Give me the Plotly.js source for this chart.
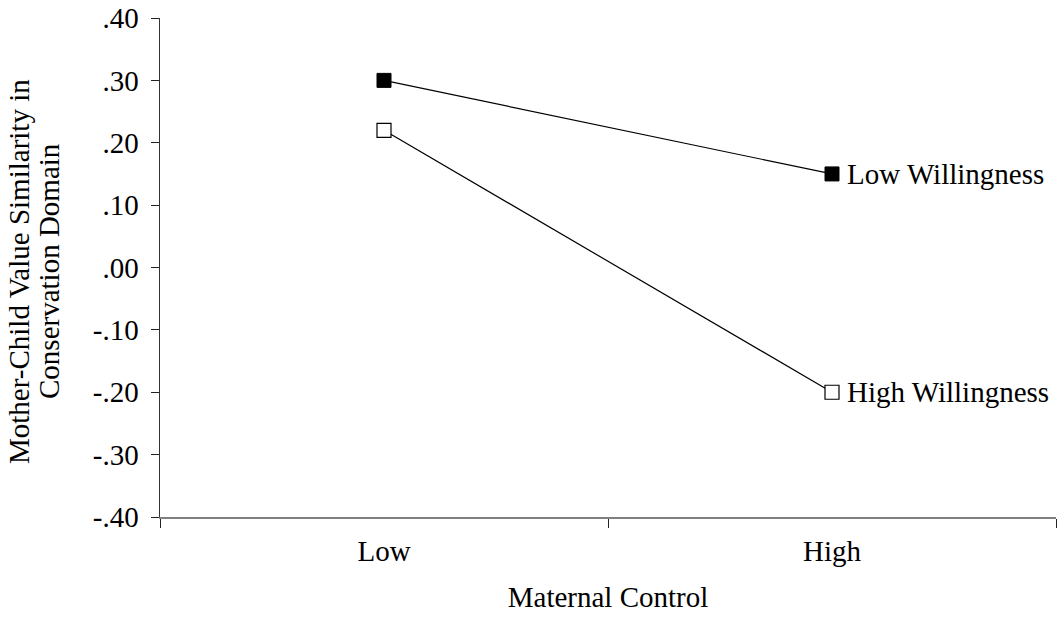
<!DOCTYPE html>
<html>
<head>
<meta charset="utf-8">
<script src="https://cdn.plot.ly/plotly-3.0.1.min.js"></script>
<style>html,body{margin:0;padding:0;background:#fff;}#chart{width:1063px;height:619px;}</style>
</head>
<body>
<div id="chart"></div>
<script>
const categories = ["Low", "High"];
const lowWillingness = [0.30, 0.15];
const highWillingness = [0.22, -0.20];
const seriesNames = ["Low Willingness", "High Willingness"];
const yTickVals = [0.40, 0.30, 0.20, 0.10, 0.00, -0.10, -0.20, -0.30, -0.40];
const yTickText = [".40", ".30", ".20", ".10", ".00", "-.10", "-.20", "-.30", "-.40"];
const xTitle = "Maternal Control";
const yTitleLines = ["Mother-Child Value Similarity in", "Conservation Domain"];

const FONT = "Liberation Serif, Times New Roman, serif";
const FS = 29;

const traces = [
  {x: categories, y: lowWillingness, name: seriesNames[0], type: "scatter", mode: "lines+markers",
   line: {color: "#000", width: 1.2},
   marker: {symbol: "square", size: 14, color: "#000", line: {color: "#000", width: 1}}},
  {x: categories, y: highWillingness, name: seriesNames[1], type: "scatter", mode: "lines+markers",
   line: {color: "#000", width: 1.2},
   marker: {symbol: "square", size: 14, color: "#fff", line: {color: "#000", width: 1.2}}}
];

const layout = {
  width: 1063, height: 619,
  margin: {l: 160, r: 7, t: 18, b: 102},
  paper_bgcolor: "#fff", plot_bgcolor: "#fff",
  showlegend: false,
  font: {family: FONT, color: "#000", size: FS},
  xaxis: {
    type: "category", categoryarray: categories, tickson: "boundaries",
    range: [-0.5, 1.5],
    showgrid: false, zeroline: false,
    showline: true, linecolor: "#808080", linewidth: 1.5,
    ticks: "outside", ticklen: 9, tickcolor: "#222", tickwidth: 1,
    tickfont: {family: FONT, size: FS, color: "#000"},
    ticklabelstandoff: 8,
    title: {text: xTitle, font: {family: FONT, size: FS, color: "#000"}, standoff: 20},
    fixedrange: true
  },
  xaxis2: {
    overlaying: "x", type: "linear", range: [-0.5, 1.5],
    tickvals: [-0.5, 0.5, 1.5], showticklabels: false,
    showgrid: false, zeroline: false, showline: false,
    ticks: "inside", ticklen: 9, tickcolor: "#222", tickwidth: 1, side: "bottom"
  },
  yaxis: {
    range: [-0.4, 0.4], tickvals: yTickVals, ticktext: yTickText,
    showgrid: false, zeroline: false,
    showline: true, linecolor: "#333", linewidth: 1.5,
    ticks: "outside", ticklen: 8, tickcolor: "#222", tickwidth: 1,
    tickfont: {family: FONT, size: FS, color: "#000"},
    ticklabelstandoff: 6,
    fixedrange: true
  },
  yaxis2: {
    overlaying: "y", range: [-0.4, 0.4], tickvals: yTickVals, showticklabels: false,
    showgrid: false, zeroline: false, showline: false,
    ticks: "inside", ticklen: 10, tickcolor: "#222", tickwidth: 1, side: "left"
  },
  annotations: [
    {x: categories[1], y: lowWillingness[1], xref: "x", yref: "y", text: seriesNames[0],
     showarrow: false, xanchor: "left", yanchor: "middle", xshift: 13,
     font: {family: FONT, size: FS, color: "#000"}},
    {x: categories[1], y: highWillingness[1], xref: "x", yref: "y", text: seriesNames[1],
     showarrow: false, xanchor: "left", yanchor: "middle", xshift: 13,
     font: {family: FONT, size: FS, color: "#000"}},
    {x: 0, y: 0.5, xref: "paper", yref: "paper", text: yTitleLines[0],
     showarrow: false, textangle: -90, xanchor: "center", yanchor: "middle", xshift: -141.5, yshift: -4,
     font: {family: FONT, size: FS, color: "#000"}},
    {x: 0, y: 0.5, xref: "paper", yref: "paper", text: yTitleLines[1],
     showarrow: false, textangle: -90, xanchor: "center", yanchor: "middle", xshift: -111.5, yshift: -4,
     font: {family: FONT, size: FS, color: "#000"}}
  ]
};

Plotly.newPlot("chart", traces, layout, {displayModeBar: false, staticPlot: true});
</script>
</body>
</html>
